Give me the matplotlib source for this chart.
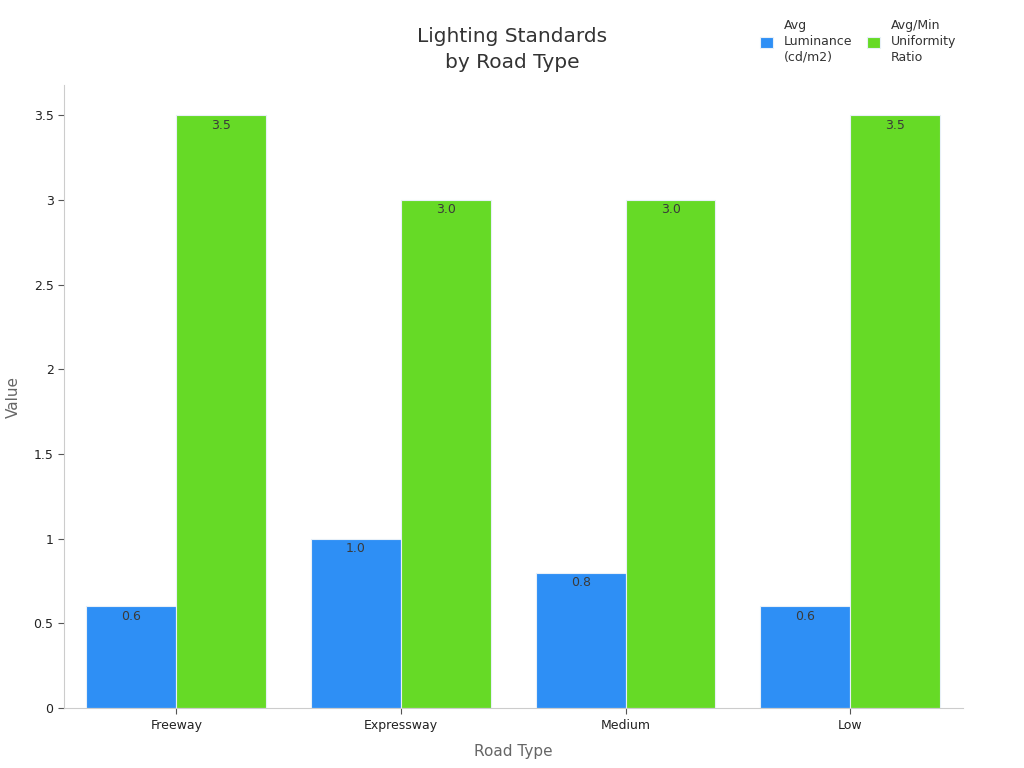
import numpy as np
import matplotlib
matplotlib.use('Agg')
from matplotlib import pyplot as plt

categories = ['Freeway', 'Expressway', 'Medium', 'Low']
avg_luminance = [0.6, 1.0, 0.8, 0.6]
uniformity_ratio = [3.5, 3.0, 3.0, 3.5]
series_names = ['Avg\nLuminance\n(cd/m2)', 'Avg/Min\nUniformity\nRatio']
yticks = [0, 0.5, 1, 1.5, 2, 2.5, 3, 3.5]
ytick_labels = ['0', '0.5', '1', '1.5', '2', '2.5', '3', '3.5']

fig = plt.figure(figsize=(10.24, 7.68), dpi=100)
ax = fig.add_axes([0.0625, 0.078, 0.8775, 0.811])

x = np.arange(len(categories))
w = 0.4
b1 = ax.bar(x - w/2, avg_luminance, w, color='#2E8FF5', edgecolor='#e8f0f8',
            linewidth=0.8, label=series_names[0])
b2 = ax.bar(x + w/2, uniformity_ratio, w, color='#66DA26', edgecolor='#e8f0f8',
            linewidth=0.8, label=series_names[1])

for bars in (b1, b2):
    for r in bars:
        ax.text(r.get_x() + r.get_width()/2, r.get_height() - 0.02,
                f'{r.get_height():.1f}', ha='center', va='top',
                fontsize=9, color='#3a3a3a')

ax.set_xlim(-0.5, 3.5)
ax.set_ylim(0, 3.677)
ax.set_xticks(x)
ax.set_xticklabels(categories, fontsize=9, color='#222222')
ax.set_yticks(yticks)
ax.set_yticklabels(ytick_labels, fontsize=9, color='#222222')
ax.tick_params(colors='#555555', length=4, width=0.8, labelcolor='#222222')

for s in ('top', 'right'):
    ax.spines[s].set_visible(False)
for s in ('left', 'bottom'):
    ax.spines[s].set_color('#cccccc')

ax.set_xlabel('Road Type', fontsize=11, color='#666666', labelpad=9)
ax.set_ylabel('Value', fontsize=11, color='#666666', labelpad=9)

fig.text(0.5, 0.936, 'Lighting Standards\nby Road Type', ha='center', va='center',
         fontsize=14.5, color='#333333', linespacing=1.45)

leg = fig.legend(loc='upper right', bbox_to_anchor=(0.945, 0.99), ncol=2, frameon=False,
                 fontsize=9, handlelength=1.0, handleheight=1.0, columnspacing=1.2,
                 handletextpad=0.9)
for t in leg.get_texts():
    t.set_linespacing(1.3)
    t.set_color('#333333')

fig.savefig('out.png', dpi=100)
